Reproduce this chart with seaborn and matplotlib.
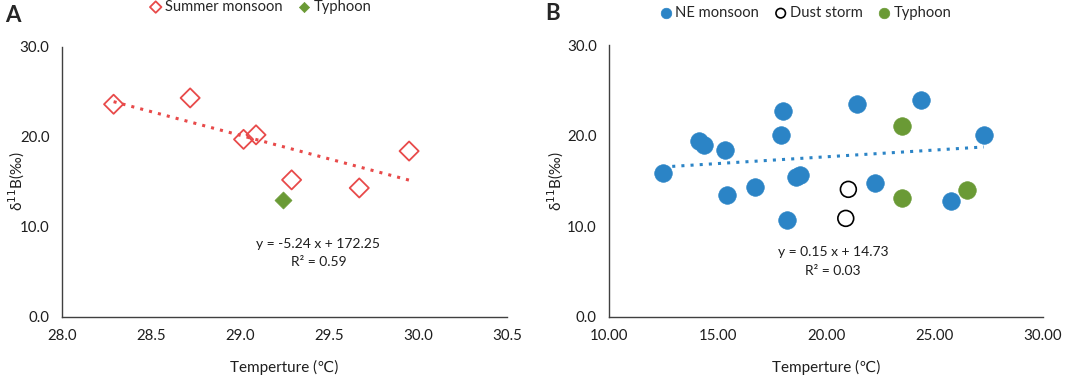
import numpy as np
import pandas as pd
import seaborn as sns
import matplotlib
matplotlib.use("Agg")
import matplotlib.pyplot as plt

# Panel A - summer season
sm_temp = [28.29, 28.72, 29.02, 29.09, 29.29, 29.67, 29.95]
sm_d11b = [23.6, 24.3, 19.7, 20.2, 15.2, 14.3, 18.4]
tyA_temp = [29.24]
tyA_d11b = [13.0]

# Panel B - winter season
ne_temp = [12.48, 14.15, 14.35, 15.35, 15.43, 16.71, 17.94, 18.02,
           18.18, 18.60, 18.78, 21.43, 22.25, 24.40, 25.78, 27.28]
ne_d11b = [15.85, 19.39, 18.95, 18.47, 13.42, 14.34, 20.05, 22.70,
           10.69, 15.44, 15.67, 23.48, 14.74, 23.96, 12.83, 20.05]
dust_temp = [21.03, 20.91]
dust_d11b = [14.08, 10.87]
tyB_temp = [23.49, 23.52, 26.49]
tyB_d11b = [21.12, 13.12, 13.97]

eqA = ["y = -5.24 x + 172.25", "R² = 0.59"]
eqB = ["y = 0.15 x + 14.73", "R² = 0.03"]

RED = "#e84a4a"
GREEN = "#6a9a35"
BLUE = "#2b84c6"
AXC = "#404040"
TXT = "#1e1e1e"

sns.set_theme(style="white")
plt.rcParams['font.family'] = ['Lato', 'DejaVu Sans']
plt.rcParams['mathtext.fontset'] = 'dejavusans'

fig = plt.figure(figsize=(10.76, 3.76), dpi=100)
axA = fig.add_axes([0.0576, 0.1577, 0.4136, 0.7183])
axB = fig.add_axes([0.5663, 0.1577, 0.4028, 0.7217])

dfA = pd.DataFrame({'t': sm_temp, 'd': sm_d11b})
dfA2 = pd.DataFrame({'t': tyA_temp, 'd': tyA_d11b})
sns.scatterplot(data=dfA, x='t', y='d', ax=axA, marker='D', s=95,
                facecolor='none', edgecolor=RED, linewidth=1.3,
                label='Summer monsoon', zorder=3)
sns.scatterplot(data=dfA2, x='t', y='d', ax=axA, marker='D', s=75,
                color=GREEN, edgecolor=GREEN, linewidth=0.5,
                label='Typhoon', zorder=3)

# linear trend of the summer monsoon samples
k, b = np.polyfit(sm_temp, sm_d11b, 1)
xl = np.array([min(sm_temp), max(sm_temp)])
sns.lineplot(x=xl, y=k * xl + b, ax=axA, color=RED, linestyle=(0, (1, 2)),
             linewidth=2.2, legend=False, zorder=2)

dfB = pd.DataFrame({'t': ne_temp, 'd': ne_d11b})
dfB2 = pd.DataFrame({'t': dust_temp, 'd': dust_d11b})
dfB3 = pd.DataFrame({'t': tyB_temp, 'd': tyB_d11b})
sns.scatterplot(data=dfB, x='t', y='d', ax=axB, s=160, color=BLUE,
                edgecolor=BLUE, linewidth=0.5, label='NE monsoon', zorder=3)
sns.scatterplot(data=dfB2, x='t', y='d', ax=axB, s=130, facecolor='none',
                edgecolor='black', linewidth=1.2, label='Dust storm', zorder=3)
sns.scatterplot(data=dfB3, x='t', y='d', ax=axB, s=160, color=GREEN,
                edgecolor=GREEN, linewidth=0.5, label='Typhoon', zorder=3)

# linear trend of the NE monsoon samples
k2, b2 = np.polyfit(ne_temp, ne_d11b, 1)
xl2 = np.array([min(ne_temp), max(ne_temp)])
sns.lineplot(x=xl2, y=k2 * xl2 + b2, ax=axB, color=BLUE, linestyle=(0, (1, 2)),
             linewidth=2.2, legend=False, zorder=2)

for ax in (axA, axB):
    ax.set_ylim(0, 30)
    ax.set_yticks([0, 10, 20, 30])
    ax.set_yticklabels([f"{v:.1f}" for v in [0, 10, 20, 30]])
    for side in ('top', 'right'):
        ax.spines[side].set_visible(False)
    for side in ('left', 'bottom'):
        ax.spines[side].set_color(AXC)
        ax.spines[side].set_linewidth(1.0)
    ax.tick_params(axis='both', which='major', direction='out', length=5,
                   width=1, color=AXC, labelsize=10.8, labelcolor=TXT, pad=4)
    ax.set_xlabel("Temperture (℃)", fontsize=11, color=TXT, labelpad=12)
    ax.set_ylabel("δ$^{11}$B(‰)", fontsize=11, color=TXT)

axA.set_xlim(28.0, 30.5)
axA.set_xticks(np.arange(28.0, 30.51, 0.5))
axA.set_xticklabels([f"{v:.1f}" for v in np.arange(28.0, 30.51, 0.5)])
axB.set_xlim(10, 30)
axB.set_xticks([10, 15, 20, 25, 30])
axB.set_xticklabels([f"{v:.2f}" for v in [10, 15, 20, 25, 30]])

axA.yaxis.set_label_coords(-0.079, 0.5)
axB.yaxis.set_label_coords(-0.10, 0.5)

axA.text(29.44, 8.1, eqA[0], ha='center', va='center', fontsize=10, color=TXT)
axA.text(29.44, 6.1, eqA[1], ha='center', va='center', fontsize=10, color=TXT)
axB.text(20.32, 7.1, eqB[0], ha='center', va='center', fontsize=10, color=TXT)
axB.text(20.32, 5.0, eqB[1], ha='center', va='center', fontsize=10, color=TXT)

axA.legend(loc='center', bbox_to_anchor=(0.445, 1.147), ncol=2, frameon=False,
           fontsize=10.6, handlelength=1.0, handletextpad=0.15,
           columnspacing=0.95, markerscale=0.6, borderaxespad=0)
axB.legend(loc='center', bbox_to_anchor=(0.452, 1.119), ncol=3, frameon=False,
           fontsize=10.6, handlelength=1.0, handletextpad=0.15,
           columnspacing=0.95, markerscale=0.6, borderaxespad=0)

fig.text(0.005, 0.96, "A", fontsize=16, fontweight='bold', va='center', ha='left')
fig.text(0.507, 0.965, "B", fontsize=16, fontweight='bold', va='center', ha='left')

fig.savefig("out.png", dpi=100)
